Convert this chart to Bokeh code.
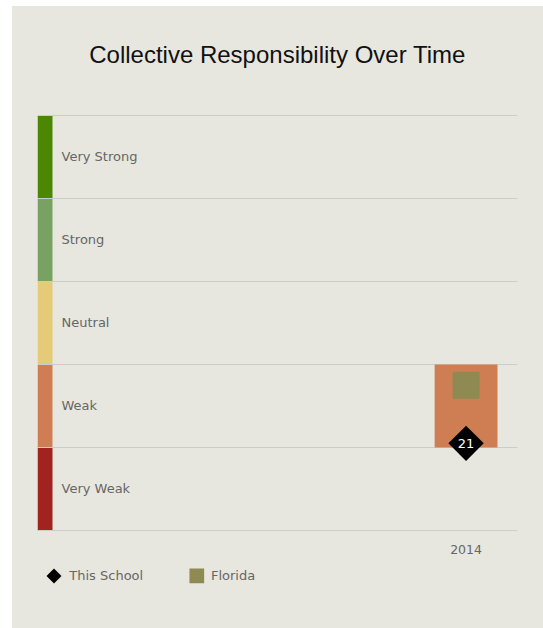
import math
from bokeh.plotting import figure
from bokeh.models import Range1d, FixedTicker, Label
from bokeh.embed import file_html
from bokeh.resources import INLINE
from bokeh.core.properties import value

# ---------------- data ----------------
TITLE = "Collective Responsibility Over Time"
categories = ["Very Weak", "Weak", "Neutral", "Strong", "Very Strong"]
category_bounds = [0, 20, 40, 60, 80, 100]
category_colors = ["#A0231F", "#CF7E54", "#E5CA77", "#77A262", "#4B8703"]
years = [2014]
school_scores = [21]
florida_scores = [35]
series_names = ["This School", "Florida"]

# ---------------- style / layout ----------------
BG = "#E8E7DF"
TEXT = "#666666"
FONT = "DejaVu Sans"
GRID = "#CCCCCC"
FLORIDA_COLOR = "#8E8A52"

FIG_W, FIG_H = 531, 622
FRAME_LEFT, FRAME_W = 25, 480
PLOT_TOP, PLOT_BOTTOM = 109, 524       # pixel rows of the score band area inside the figure
unit = (PLOT_BOTTOM - PLOT_TOP) / (category_bounds[-1] - category_bounds[0])  # px per score
YMAX = category_bounds[-1] + PLOT_TOP / unit
YMIN = category_bounds[0] - (FIG_H - PLOT_BOTTOM) / unit

XMIN, XMAX = 2006.5, 2014.9
px = (XMAX - XMIN) / FRAME_W  # data units per pixel


def sx_to_x(sx):
    return XMIN + (sx - FRAME_LEFT) * px


def sy_to_y(sy):
    return YMAX - sy / unit


p = figure(width=FIG_W, height=FIG_H, output_backend="svg", toolbar_location=None,
           x_range=Range1d(XMIN, XMAX), y_range=Range1d(YMIN, YMAX),
           min_border_left=FRAME_LEFT, min_border_right=FIG_W - FRAME_LEFT - FRAME_W,
           min_border_top=0, min_border_bottom=0,
           background_fill_color=BG, border_fill_color=BG, outline_line_color=None)
p.margin = (6, 0, 0, 12)
p.styles = {"background-color": BG}

p.xgrid.visible = False
p.ygrid.ticker = FixedTicker(ticks=category_bounds)
p.ygrid.grid_line_color = GRID
p.yaxis.visible = False

ax = p.xaxis[0]
ax.fixed_location = category_bounds[0]
ax.ticker = FixedTicker(ticks=years)
ax.axis_line_color = None
ax.major_tick_line_color = None
ax.minor_tick_line_color = None
ax.major_tick_out = 0
ax.major_tick_in = 0
ax.major_label_standoff = 14
ax.major_label_text_font = FONT
ax.major_label_text_font_size = "12.5px"
ax.major_label_text_color = TEXT

# category colour strips (drawn beneath the grid lines)
p.quad(left=XMIN, right=XMIN + 15 * px, bottom=category_bounds[:-1], top=category_bounds[1:],
       fill_color=category_colors, line_color=None, level="image")

# category labels
centers = [(a + b) / 2 for a, b in zip(category_bounds[:-1], category_bounds[1:])]
p.text(x=[XMIN] * len(categories), y=centers, text=categories, x_offset=24, y_offset=-1,
       text_baseline="middle", text_align="left", text_font=value(FONT),
       text_font_size="13px", text_color=TEXT)

# level bar for this school's score
lvl = [min(int(s // 20), len(categories) - 1) for s in school_scores]
p.vbar(x=years, width=1.1, bottom=[category_bounds[i] for i in lvl],
       top=[category_bounds[i + 1] for i in lvl],
       fill_color=[category_colors[i] for i in lvl], line_color=None)

# Florida marker
p.rect(x=years, y=florida_scores, width=27, height=27, width_units="screen",
       height_units="screen", fill_color=FLORIDA_COLOR, line_color=None)

# School diamond
p.scatter(x=years, y=school_scores, marker="square", angle=math.pi / 4, size=25,
          fill_color="black", line_color=None)
p.text(x=years, y=school_scores, text=[str(v) for v in school_scores],
       text_align="center", text_baseline="middle", text_font=value(FONT),
       text_font_size="13px", text_color="white")

# title
p.add_layout(Label(x=(XMIN + XMAX) / 2, y=category_bounds[-1], y_offset=61, text=TITLE,
                   text_align="center", text_baseline="alphabetic",
                   text_font="Liberation Sans", text_font_size="24px", text_color="#111111"))

# legend (drawn below the bands, swatches sized like the reference)
LEG_Y = sy_to_y(569.4)
p.scatter(x=[sx_to_x(41.5)], y=[LEG_Y], marker="square", angle=math.pi / 4, size=10.6,
          fill_color="black", line_color=None)
p.scatter(x=[sx_to_x(184.3)], y=[LEG_Y], marker="square", size=14.7,
          fill_color=FLORIDA_COLOR, line_color=None)
p.text(x=[sx_to_x(56.8), sx_to_x(198.4)], y=[LEG_Y, LEG_Y], text=series_names,
       text_align="left", text_baseline="middle", text_font=value(FONT),
       text_font_size="13px", text_color=TEXT)

open("out.html", "w").write(file_html(p, INLINE))
